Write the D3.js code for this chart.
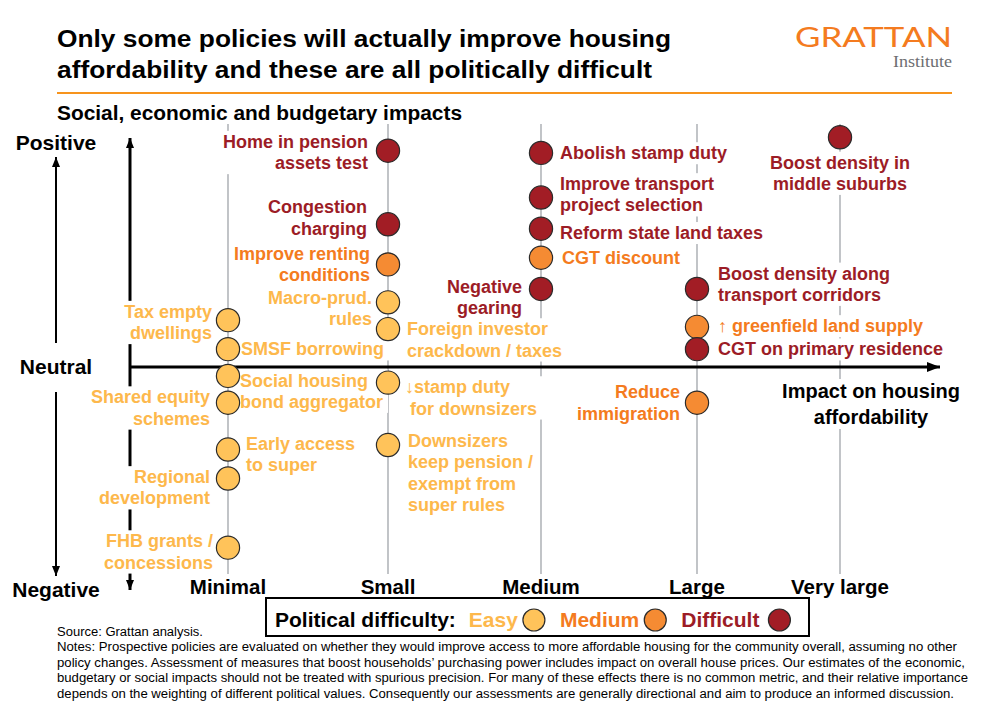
<!DOCTYPE html>
<html><head><meta charset="utf-8">
<script src="https://cdn.jsdelivr.net/npm/d3@7"></script>
<style>
html,body{margin:0;padding:0;background:#fff;}
svg{display:block;font-family:"Liberation Sans",Arial,Helvetica,sans-serif;}
</style></head><body>
<svg id="chart" width="990" height="723"></svg>
<script>
// ---------------- DATA ----------------
const impactLevels = ["Minimal", "Small", "Medium", "Large", "Very large"];
const difficultyLevels = ["Easy", "Medium", "Difficult"];
const policyLabels = [
  "Tax empty\ndwellings", "SMSF borrowing", "Social housing\nbond aggregator", "Shared equity\nschemes",
  "Early access\nto super", "Regional\ndevelopment", "FHB grants /\nconcessions",
  "Home in pension\nassets test", "Congestion\ncharging", "Improve renting\nconditions", "Macro-prud.\nrules",
  "Foreign investor\ncrackdown / taxes", "\u2193stamp duty\n\u00a0for downsizers", "Downsizers\nkeep pension /\nexempt from\nsuper rules",
  "Abolish stamp duty", "Improve transport\nproject selection", "Reform state land taxes", "CGT discount", "Negative\ngearing",
  "Boost density along\ntransport corridors", "\u2191 greenfield land supply", "CGT on primary residence", "Reduce\nimmigration",
  "Boost density in\nmiddle suburbs"
];
const policyImpact = [
  "Minimal", "Minimal", "Minimal", "Minimal", "Minimal", "Minimal", "Minimal",
  "Small", "Small", "Small", "Small", "Small", "Small", "Small",
  "Medium", "Medium", "Medium", "Medium", "Medium",
  "Large", "Large", "Large", "Large",
  "Very large"
];
const socialImpact = [
  2.1, 0.8, -0.4, -1.6, -3.7, -5.0, -8.1,
  9.7, 6.4, 4.6, 2.9, 1.7, -0.7, -3.5,
  9.6, 7.6, 6.2, 4.9, 3.5,
  3.5, 1.8, 0.8, -1.6,
  10.3
];
const politicalDifficulty = [
  "Easy", "Easy", "Easy", "Easy", "Easy", "Easy", "Easy",
  "Difficult", "Difficult", "Medium", "Easy", "Easy", "Easy", "Easy",
  "Difficult", "Difficult", "Difficult", "Medium", "Difficult",
  "Difficult", "Medium", "Difficult", "Medium",
  "Difficult"
];
const yAxisLabels = ["Positive", "Neutral", "Negative"];
const titleLines = ["Only some policies will actually improve housing", "affordability and these are all politically difficult"];
const subtitle = "Social, economic and budgetary impacts";
const xAxisTitle = ["Impact on housing", "affordability"];
const legendTitle = "Political difficulty:";
const sourceText = "Source: Grattan analysis.";
const notesLines = [
  "Notes: Prospective policies are evaluated on whether they would improve access to more affordable housing for the community overall, assuming no other",
  "policy changes. Assessment of measures that boost households\u2019 purchasing power includes impact on overall house prices. Our estimates of the economic,",
  "budgetary or social impacts should not be treated with spurious precision. For many of these effects there is no common metric, and their relative importance",
  "depends on the weighting of different political values. Consequently our assessments are generally directional and aim to produce an informed discussion."
];

// ---------------- LAYOUT (label placement: side, dx, dy) ----------------
const labelLayout = [
  ["left", -16, 2], ["right", 13, 0], ["right", 12, 15], ["left", -18, 5], ["right", 18, 5], ["left", -18, 9], ["left", -15, 4],
  ["left", -20, 1.5], ["left", -21, -6.5], ["left", -18, 0], ["left", -16, 6], ["right", 19, 10.5], ["right", 17, 15], ["right", 20, 27.5],
  ["right", 19, 0], ["right", 19, -3], ["right", 19, 4], ["right", 21, 0], ["left", -19, 8],
  ["right", 21, -5], ["right", 21, -1], ["right", 21, 0], ["left", -17, 0],
  ["below", 0, 25]
];

const fillColor = d3.scaleOrdinal().domain(difficultyLevels).range(["#FFC35A", "#F58B33", "#A21D25"]);
const textColor = d3.scaleOrdinal().domain(difficultyLevels).range(["#FDB84C", "#F47B20", "#9C1C26"]);
const ORANGE = "#F7941D";

const svg = d3.select("#chart");
const x = d3.scaleOrdinal().domain(impactLevels).range([228, 388, 541, 697, 840]);
const y = d3.scaleLinear().domain([-10, 10]).range([590, 144]);
const y0 = y(0);

const data = policyLabels.map((label, i) => ({
  label, impact: policyImpact[i], social: socialImpact[i], difficulty: politicalDifficulty[i],
  side: labelLayout[i][0], dx: labelLayout[i][1], dy: labelLayout[i][2]
}));

// ---------------- HEADER ----------------
svg.selectAll("text.title").data(titleLines).join("text").attr("class", "title")
  .attr("x", 57).attr("y", (d, i) => 47 + i * 31)
  .attr("font-size", 23).attr("font-weight", "bold").attr("fill", "#000")
  .attr("textLength", (d, i) => [614, 595][i]).attr("lengthAdjust", "spacingAndGlyphs")
  .text(d => d);

svg.append("text").attr("x", 952).attr("y", 47).attr("text-anchor", "end")
  .attr("font-family", "Lato, 'Open Sans', 'Liberation Sans', sans-serif").attr("font-weight", 400)
  .attr("font-size", 26).attr("fill", "#F47B20")
  .attr("textLength", 157).attr("lengthAdjust", "spacingAndGlyphs").text("GRATTAN");
svg.append("text").attr("x", 952).attr("y", 67).attr("text-anchor", "end")
  .attr("font-family", "'Liberation Serif', 'DejaVu Serif', serif")
  .attr("font-size", 16).attr("fill", "#6d6e71")
  .attr("textLength", 59).attr("lengthAdjust", "spacingAndGlyphs").text("Institute");

svg.append("line").attr("x1", 57).attr("x2", 952).attr("y1", 93).attr("y2", 93)
  .attr("stroke", ORANGE).attr("stroke-width", 2);

svg.append("text").attr("x", 57).attr("y", 120)
  .attr("font-size", 19.5).attr("font-weight", "bold")
  .attr("textLength", 405).attr("lengthAdjust", "spacingAndGlyphs").text(subtitle);

// ---------------- LEFT QUALITATIVE AXIS ----------------
const defs = svg.append("defs");
function marker(id, w, h) {
  defs.append("marker").attr("id", id).attr("viewBox", `0 0 ${w} ${h}`)
    .attr("refX", w).attr("refY", h / 2).attr("markerWidth", w).attr("markerHeight", h)
    .attr("markerUnits", "userSpaceOnUse").attr("orient", "auto")
    .append("path").attr("d", `M0,0L${w},${h / 2}L0,${h}Z`).attr("fill", "#000");
}
marker("arrSmall", 10, 8);
marker("arrBig", 13, 10);

svg.selectAll("text.ylab").data(yAxisLabels).join("text").attr("class", "ylab")
  .attr("x", 56).attr("y", (d, i) => [150, 374, 597][i]).attr("text-anchor", "middle")
  .attr("font-size", 21).attr("font-weight", "bold").text(d => d);

svg.append("line").attr("x1", 56).attr("x2", 56).attr("y1", 343).attr("y2", 157)
  .attr("stroke", "#000").attr("stroke-width", 2).attr("marker-end", "url(#arrSmall)");
svg.append("line").attr("x1", 56).attr("x2", 56).attr("y1", 392).attr("y2", 576)
  .attr("stroke", "#000").attr("stroke-width", 2).attr("marker-end", "url(#arrSmall)");

// ---------------- GRIDLINES ----------------
svg.append("g").selectAll("line").data(impactLevels).join("line")
  .attr("x1", d => x(d)).attr("x2", d => x(d)).attr("y1", 124).attr("y2", 574)
  .attr("stroke", "#8f949a").attr("stroke-width", 1.1);

// ---------------- MAIN AXES ----------------
svg.append("line").attr("x1", 130).attr("x2", 130).attr("y1", y0).attr("y2", 138)
  .attr("stroke", "#000").attr("stroke-width", 3).attr("marker-end", "url(#arrSmall)");
svg.append("line").attr("x1", 130).attr("x2", 130).attr("y1", y0).attr("y2", 590)
  .attr("stroke", "#000").attr("stroke-width", 3).attr("marker-end", "url(#arrSmall)");
svg.append("line").attr("x1", 129).attr("x2", 940).attr("y1", y0).attr("y2", y0)
  .attr("stroke", "#000").attr("stroke-width", 3).attr("marker-end", "url(#arrBig)");

svg.selectAll("text.xtick").data(impactLevels).join("text").attr("class", "xtick")
  .attr("x", d => x(d)).attr("y", 594).attr("text-anchor", "middle")
  .attr("font-size", 20.5).attr("font-weight", "bold").text(d => d);

// helper: multi-line text with white background
const FS = 18, LH = 21.3;
function addLabel(parent, lines, px, cy, anchor, color, fs, lh, weight) {
  const gg = parent.append("g");
  const rect = gg.append("rect").attr("fill", "#fff");
  const t = gg.append("text").attr("font-size", fs).attr("font-weight", weight || "bold")
    .attr("fill", color).attr("text-anchor", anchor);
  const n = lines.length;
  lines.forEach((ln, k) => {
    t.append("tspan").attr("x", px).attr("y", cy + (k - (n - 1) / 2) * lh + fs * 0.35).text(ln);
  });
  const bb = t.node().getBBox();
  rect.attr("x", bb.x - 5).attr("y", bb.y - 1).attr("width", bb.width + 10).attr("height", bb.height + 2);
  return gg;
}

// x-axis title
addLabel(svg, xAxisTitle, 871, 404, "middle", "#000", 20, 26);

// ---------------- LABELS ----------------
const labelG = svg.append("g");
data.forEach(d => {
  const lines = d.label.split("\n");
  const cx = x(d.impact), cy = y(d.social);
  const col = textColor(d.difficulty);
  if (d.side === "below") {
    const n = lines.length;
    addLabel(labelG, lines, cx, cy + d.dy + (n - 1) / 2 * LH, "middle", col, FS, LH);
  } else {
    addLabel(labelG, lines, cx + d.dx, cy + d.dy, d.side === "left" ? "end" : "start", col, FS, LH);
  }
});

// ---------------- POINTS ----------------
svg.append("g").selectAll("circle").data(data).join("circle")
  .attr("cx", d => x(d.impact)).attr("cy", d => y(d.social)).attr("r", 11.6)
  .attr("fill", d => fillColor(d.difficulty)).attr("stroke", "#2b2b2b").attr("stroke-width", 1.2);

// ---------------- LEGEND ----------------
const lg = svg.append("g");
lg.append("rect").attr("x", 266).attr("y", 598).attr("width", 543).attr("height", 38)
  .attr("fill", "#fff").attr("stroke", "#000").attr("stroke-width", 2);
let lx = 275;
const lt = lg.append("text").attr("x", lx).attr("y", 627).attr("font-size", 21).attr("font-weight", "bold").text(legendTitle);
lx += lt.node().getComputedTextLength() + 13;
const legendGaps = [5, 5, 9];
difficultyLevels.forEach((level, i) => {
  const t = lg.append("text").attr("x", lx).attr("y", 627).attr("font-size", 21).attr("font-weight", "bold")
    .attr("fill", textColor(level)).text(level);
  lx += t.node().getComputedTextLength() + legendGaps[i];
  lg.append("circle").attr("cx", lx + 11).attr("cy", 620).attr("r", 11)
    .attr("fill", fillColor(level)).attr("stroke", "#2b2b2b").attr("stroke-width", 1.2);
  lx += 22 + 15;
});

// ---------------- SOURCE & NOTES ----------------
svg.append("text").attr("x", 57).attr("y", 636).attr("font-size", 12.5).attr("fill", "#000")
  .attr("textLength", 146).attr("lengthAdjust", "spacingAndGlyphs").text(sourceText);
const notesW = [900, 908, 911, 897];
svg.selectAll("text.note").data(notesLines).join("text").attr("class", "note")
  .attr("x", 57).attr("y", (d, i) => 651 + i * 15.7).attr("font-size", 12.5).attr("fill", "#000")
  .attr("textLength", (d, i) => notesW[i]).attr("lengthAdjust", "spacingAndGlyphs").text(d => d);
</script>
</body></html>
